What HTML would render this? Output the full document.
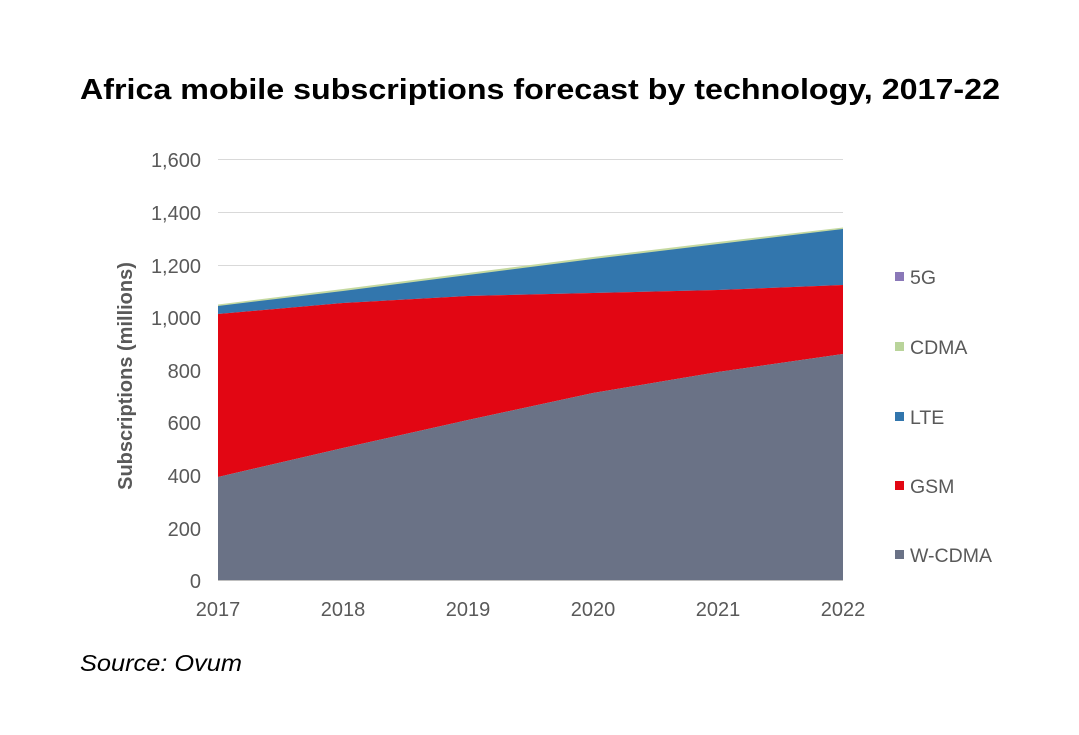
<!DOCTYPE html>
<html><head><meta charset="utf-8"><style>
html,body{margin:0;padding:0;background:#fff;}
</style></head><body>
<svg width="1079" height="730" viewBox="0 0 1079 730" xmlns="http://www.w3.org/2000/svg" font-family="Liberation Sans, sans-serif">
<rect width="1079" height="730" fill="#fff"/>
<text x="540" y="99" text-anchor="middle" font-size="29" font-weight="bold" fill="#000" textLength="920" lengthAdjust="spacingAndGlyphs">Africa mobile subscriptions forecast by technology, 2017-22</text>
<g stroke="#d9d9d9" stroke-width="1">
<line x1="218" x2="843" y1="159.5" y2="159.5"/>
<line x1="218" x2="843" y1="212.5" y2="212.5"/>
<line x1="218" x2="843" y1="265.5" y2="265.5"/>
<line x1="218" x2="843" y1="317.5" y2="317.5"/>
<line x1="218" x2="843" y1="370.5" y2="370.5"/>
<line x1="218" x2="843" y1="422.5" y2="422.5"/>
<line x1="218" x2="843" y1="475.5" y2="475.5"/>
<line x1="218" x2="843" y1="528.5" y2="528.5"/>
</g>
<polygon fill="#c5d9a0" points="218,304.5 343,289 468,273 593,257 718,242 843,227.5 843,230 718,245 593,260 468,276 343,292 218,307"/>
<polygon fill="#3276ad" points="218,306 343,291 468,275 593,259 718,244 843,229 843,285 718,290 593,293 468,296 343,303 218,314"/>
<polygon fill="#e20613" points="218,314 343,303 468,296 593,293 718,290 843,285 843,354 718,372 593,393 468,420 343,448 218,477"/>
<polygon fill="#6a7286" points="218,477 343,448 468,420 593,393 718,372 843,354 843,580 218,580"/>
<line x1="218" x2="843" y1="580.5" y2="580.5" stroke="#bfbfbf"/>
<g font-size="20" fill="#595959" text-anchor="end">
<text x="201" y="167">1,600</text>
<text x="201" y="220">1,400</text>
<text x="201" y="273">1,200</text>
<text x="201" y="325">1,000</text>
<text x="201" y="378">800</text>
<text x="201" y="430">600</text>
<text x="201" y="483">400</text>
<text x="201" y="536">200</text>
<text x="201" y="588">0</text>
</g>
<g font-size="20" fill="#595959" text-anchor="middle">
<text x="218" y="616">2017</text>
<text x="343" y="616">2018</text>
<text x="468" y="616">2019</text>
<text x="593" y="616">2020</text>
<text x="718" y="616">2021</text>
<text x="843" y="616">2022</text>
</g>
<text transform="translate(132,376) rotate(-90)" text-anchor="middle" font-size="20" font-weight="bold" fill="#595959">Subscriptions (millions)</text>
<g font-size="19.5" fill="#595959">
<rect x="895" y="272" width="9" height="9" fill="#8a78b8"/><text x="910" y="284">5G</text>
<rect x="895" y="342" width="9" height="9" fill="#b9d49a"/><text x="910" y="354">CDMA</text>
<rect x="895" y="412" width="9" height="9" fill="#3276ad"/><text x="910" y="424">LTE</text>
<rect x="895" y="481" width="9" height="9" fill="#e20613"/><text x="910" y="493">GSM</text>
<rect x="895" y="550" width="9" height="9" fill="#6a7286"/><text x="910" y="562">W-CDMA</text>
</g>
<text x="80" y="671" font-size="23" font-style="italic" fill="#000" textLength="162" lengthAdjust="spacingAndGlyphs">Source: Ovum</text>
</svg>
</body></html>
